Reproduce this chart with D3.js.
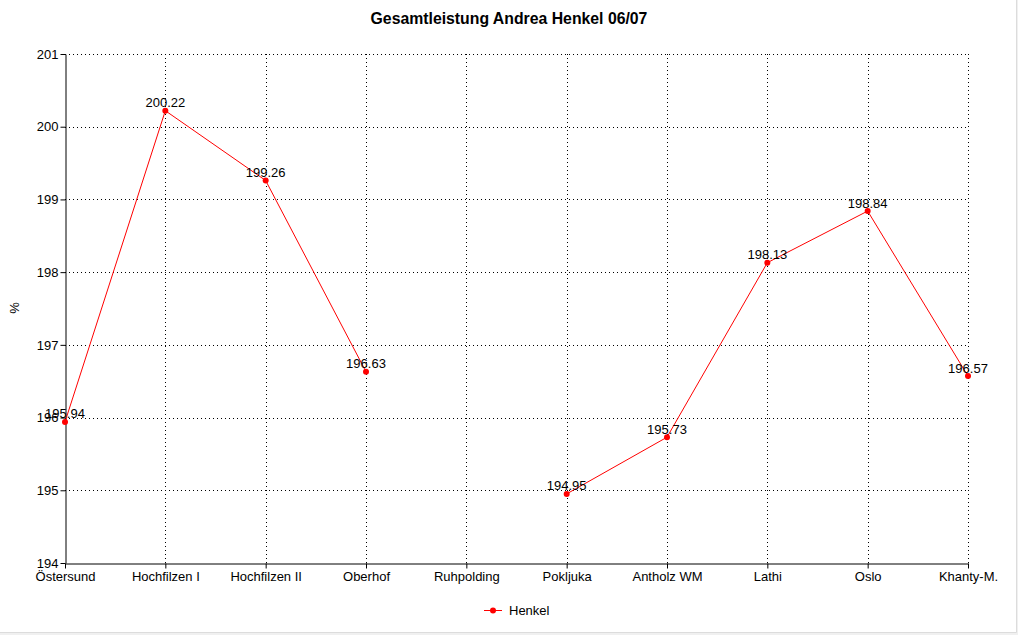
<!DOCTYPE html>
<html><head><meta charset="utf-8">
<script src="https://cdn.jsdelivr.net/npm/d3@7"></script>
<style>
html,body{margin:0;padding:0;background:#f0f0f0;}
svg{display:block;}
text{font-family:"Liberation Sans",Arial,sans-serif;fill:#000;}
</style></head>
<body>
<svg id="c" width="1018" height="635"></svg>
<script>
const categories = ["Östersund","Hochfilzen I","Hochfilzen II","Oberhof","Ruhpolding","Pokljuka","Antholz WM","Lathi","Oslo","Khanty-M."];
const henkel = [195.94, 200.22, 199.26, 196.63, null, 194.95, 195.73, 198.13, 198.84, 196.57];
const yTicks = [194,195,196,197,198,199,200,201];
const title = "Gesamtleistung Andrea Henkel 06/07";
const seriesName = "Henkel";
const yLabel = "%";

const svg = d3.select("#c");
svg.append("rect").attr("x",0).attr("y",0).attr("width",1016).attr("height",632).attr("fill","#fff");
svg.append("line").attr("x1",1016.5).attr("x2",1016.5).attr("y1",0).attr("y2",632.5).attr("stroke","#dcdcdc");
svg.append("line").attr("x1",0).attr("x2",1016.5).attr("y1",632.5).attr("y2",632.5).attr("stroke","#dcdcdc");

const L=65, R=968, T=54, B=563;
const x = d3.scalePoint().domain(categories).range([L,R]);
const y = d3.scaleLinear().domain([194,201]).range([B,T]);

svg.append("text").attr("x",509).attr("y",24).attr("text-anchor","middle")
  .style("font-weight","bold").style("font-size","15.8px").text(title);

// grid
const g = svg.append("g");
g.selectAll(".hg").data(yTicks.filter(d=>d>194)).join("line")
  .attr("x1",L).attr("x2",R).attr("y1",d=>Math.round(y(d))+0.5).attr("y2",d=>Math.round(y(d))+0.5)
  .attr("stroke","#000").attr("stroke-dasharray","1,3");
g.selectAll(".vg").data(categories.slice(1)).join("line")
  .attr("x1",d=>Math.round(x(d))+0.5).attr("x2",d=>Math.round(x(d))+0.5).attr("y1",T).attr("y2",B)
  .attr("stroke","#000").attr("stroke-dasharray","1,3");

// axes
const ya = svg.append("g").attr("transform",`translate(${L+0.5},0)`)
  .call(d3.axisLeft(y).tickValues(yTicks).tickSize(5).tickSizeOuter(0).tickFormat(d3.format("d")));
const xa = svg.append("g").attr("transform",`translate(0,${B+0.5})`)
  .call(d3.axisBottom(x).tickSize(5).tickSizeOuter(0));
[ya,xa].forEach(a=>{
  a.selectAll("path,line").attr("stroke","#000");
  a.selectAll("text").style("font-size","13px").style("font-family","'Liberation Sans',Arial,sans-serif");
});
ya.selectAll("text").attr("x",-7);
xa.selectAll("text").attr("y",8);

svg.append("text").attr("transform","translate(19,308) rotate(-90)").attr("text-anchor","middle")
  .style("font-size","13px").text(yLabel);

// line
const pts = categories.map((c,i)=>({c,v:henkel[i]}));
const line = d3.line().defined(d=>d.v!=null).x(d=>x(d.c)).y(d=>y(d.v));
svg.append("path").datum(pts).attr("d",line).attr("fill","none").attr("stroke","#ff0000").attr("stroke-width",1);
const valid = pts.filter(d=>d.v!=null);
svg.selectAll(".pt").data(valid).join("circle").attr("cx",d=>x(d.c)).attr("cy",d=>y(d.v)).attr("r",3).attr("fill","#ff0000");
svg.selectAll(".lb").data(valid).join("text").attr("x",d=>x(d.c)).attr("y",d=>y(d.v)-3.5)
  .attr("text-anchor","middle").style("font-size","13px").text(d=>d.v.toFixed(2));

// legend
svg.append("line").attr("x1",484).attr("x2",502).attr("y1",610.5).attr("y2",610.5).attr("stroke","#ff0000");
svg.append("circle").attr("cx",493).attr("cy",610.5).attr("r",3).attr("fill","#ff0000");
svg.append("text").attr("x",509).attr("y",615).style("font-size","13px").text(seriesName);
</script>
</body></html>
